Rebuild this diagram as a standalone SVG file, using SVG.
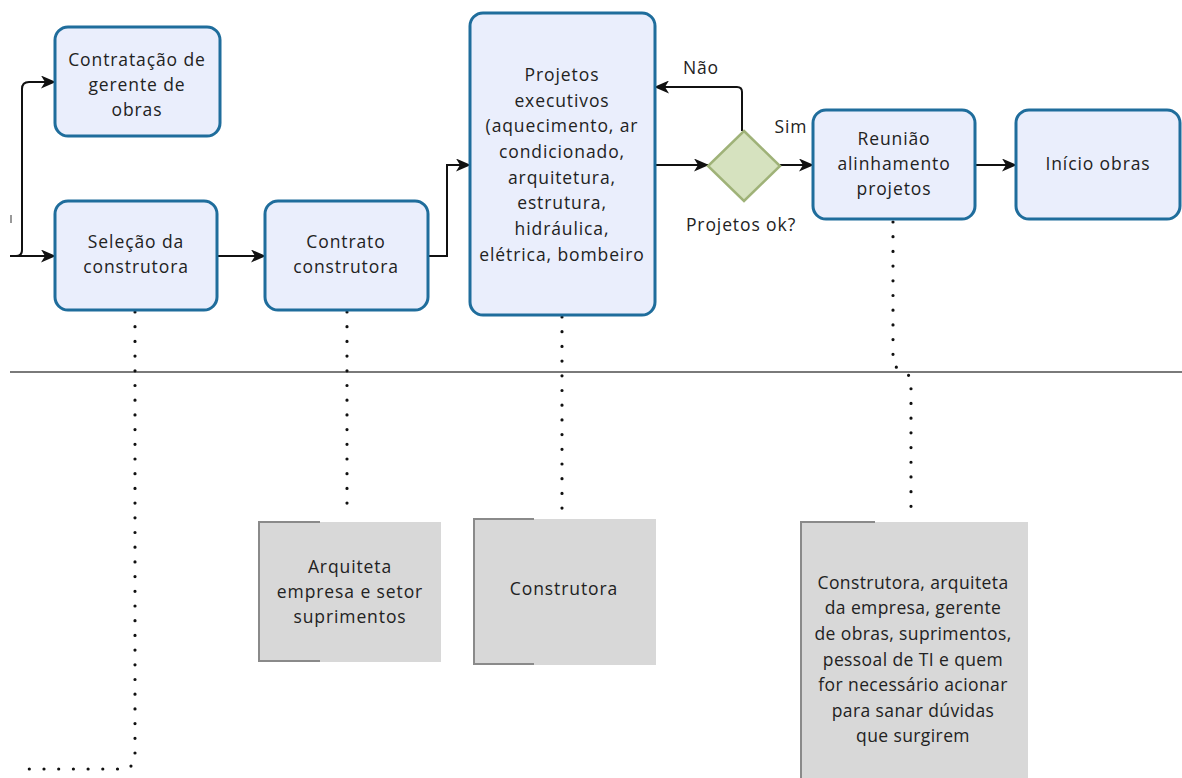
<svg xmlns="http://www.w3.org/2000/svg" width="1182" height="778" viewBox="0 0 1182 778">
  <style>
    .task { fill: #eaeefc; stroke: #1f6d9c; stroke-width: 3; }
    .lbl { font-family: "Open Sans", "DejaVu Sans", sans-serif; font-size: 17.5px; letter-spacing: 0.9px; fill: #222; text-anchor: middle; }
    .tight { letter-spacing: 0.4px; }
    .flow { fill: none; stroke: #111; stroke-width: 2; }
    .assoc { fill: none; stroke: #111; stroke-width: 3.2; stroke-linecap: round; stroke-dasharray: 0 14.7; }
    .note { fill: #d8d8d8; }
    .bracket { fill: none; stroke: #8a8a8a; stroke-width: 2; }
  </style>
  <defs>
    <marker id="arrow" viewBox="0 0 15 13" refX="14" refY="6.5" markerWidth="15" markerHeight="13" markerUnits="userSpaceOnUse" orient="auto">
      <path d="M0,0 L15,6.5 L0,13 L4,6.5 z" fill="#111"/>
    </marker>
  </defs>

  <rect width="1182" height="778" fill="#ffffff"/>

  <!-- lane separator -->
  <line x1="10" y1="372" x2="1182" y2="372" stroke="#7a7a7a" stroke-width="2"/>
  <line x1="11" y1="215" x2="11" y2="223" stroke="#777" stroke-width="1.5"/>

  <!-- connectors -->
  <g id="connectors">
    <path class="flow" d="M10,256 H55" marker-end="url(#arrow)"/>
    <path class="flow" d="M16,256 Q22,256 22,250 V89 Q22,82 29,82 H55" marker-end="url(#arrow)"/>
    <path class="flow" d="M217,256 H265" marker-end="url(#arrow)"/>
    <path class="flow" d="M428,256 H447 V165 H470" marker-end="url(#arrow)"/>
    <path class="flow" d="M655,165 H708" marker-end="url(#arrow)"/>
    <path class="flow" d="M780,165 H813" marker-end="url(#arrow)"/>
    <path class="flow" d="M742,131 V92 Q742,87 737,87 H655" marker-end="url(#arrow)"/>
    <path class="flow" d="M975,165 H1016" marker-end="url(#arrow)"/>

    <!-- associations to participants -->
    <path class="assoc" d="M135,312 V762 L128,769 H20"/>
    <path class="assoc" d="M347,312 V516"/>
    <path class="assoc" d="M562,317 V518"/>
    <path class="assoc" d="M893,222 V365 L911,377 V520"/>

    <text class="lbl" x="701" y="74">Não</text>
    <text class="lbl" x="791" y="133">Sim</text>
    <text class="lbl" x="741" y="231">Projetos ok?</text>
  </g>

  <g id="contratacao-gerente">
    <rect class="task" x="55" y="27" width="165" height="109" rx="13"/>
    <text class="lbl" x="137" y="66">Contratação de</text>
    <text class="lbl" x="137" y="91">gerente de</text>
    <text class="lbl" x="137" y="116">obras</text>
  </g>

  <g id="selecao-construtora">
    <rect class="task" x="55" y="201" width="162" height="109" rx="13"/>
    <text class="lbl" x="136" y="248">Seleção da</text>
    <text class="lbl" x="136" y="273">construtora</text>
  </g>

  <g id="contrato-construtora">
    <rect class="task" x="265" y="201" width="163" height="109" rx="13"/>
    <text class="lbl" x="346" y="248">Contrato</text>
    <text class="lbl" x="346" y="273">construtora</text>
  </g>

  <g id="projetos-executivos">
    <rect class="task" x="470" y="13" width="185" height="302" rx="13"/>
    <text class="lbl" x="562" y="81">Projetos</text>
    <text class="lbl" x="562" y="107">executivos</text>
    <text class="lbl" x="562" y="132">(aquecimento, ar</text>
    <text class="lbl" x="562" y="158">condicionado,</text>
    <text class="lbl" x="562" y="184">arquitetura,</text>
    <text class="lbl" x="562" y="209">estrutura,</text>
    <text class="lbl" x="562" y="235">hidráulica,</text>
    <text class="lbl" x="562" y="261">elétrica, bombeiro</text>
  </g>

  <g id="projetos-ok">
    <polygon points="744,131 780,166 744,201 708,166" fill="#d6e2bf" stroke="#9fb278" stroke-width="2.5"/>
  </g>

  <g id="reuniao-alinhamento">
    <rect class="task" x="813" y="110" width="162" height="109" rx="13"/>
    <text class="lbl" x="894" y="145">Reunião</text>
    <text class="lbl" x="894" y="170">alinhamento</text>
    <text class="lbl" x="894" y="195">projetos</text>
  </g>

  <g id="inicio-obras">
    <rect class="task" x="1016" y="110" width="164" height="109" rx="13"/>
    <text class="lbl" x="1098" y="170">Início obras</text>
  </g>

  <g id="nota-arquiteta">
    <rect class="note" x="258" y="522" width="183" height="140"/>
    <path class="bracket" d="M320,522 H259 V661 H320"/>
    <text class="lbl" x="350" y="573">Arquiteta</text>
    <text class="lbl" x="350" y="598">empresa e setor</text>
    <text class="lbl" x="350" y="623">suprimentos</text>
  </g>

  <g id="nota-construtora">
    <rect class="note" x="473" y="519" width="183" height="146"/>
    <path class="bracket" d="M534,519 H474 V664 H534"/>
    <text class="lbl" x="564" y="595">Construtora</text>
  </g>

  <g id="nota-reuniao">
    <rect class="note" x="800" y="522" width="228" height="256"/>
    <path class="bracket" d="M875,522 H801 V778"/>
    <text class="lbl tight" x="913" y="589">Construtora, arquiteta</text>
    <text class="lbl tight" x="913" y="614">da empresa, gerente</text>
    <text class="lbl tight" x="913" y="640">de obras, suprimentos,</text>
    <text class="lbl tight" x="913" y="666">pessoal de TI e quem</text>
    <text class="lbl tight" x="913" y="691">for necessário acionar</text>
    <text class="lbl tight" x="913" y="717">para sanar dúvidas</text>
    <text class="lbl tight" x="913" y="742">que surgirem</text>
  </g>
</svg>
